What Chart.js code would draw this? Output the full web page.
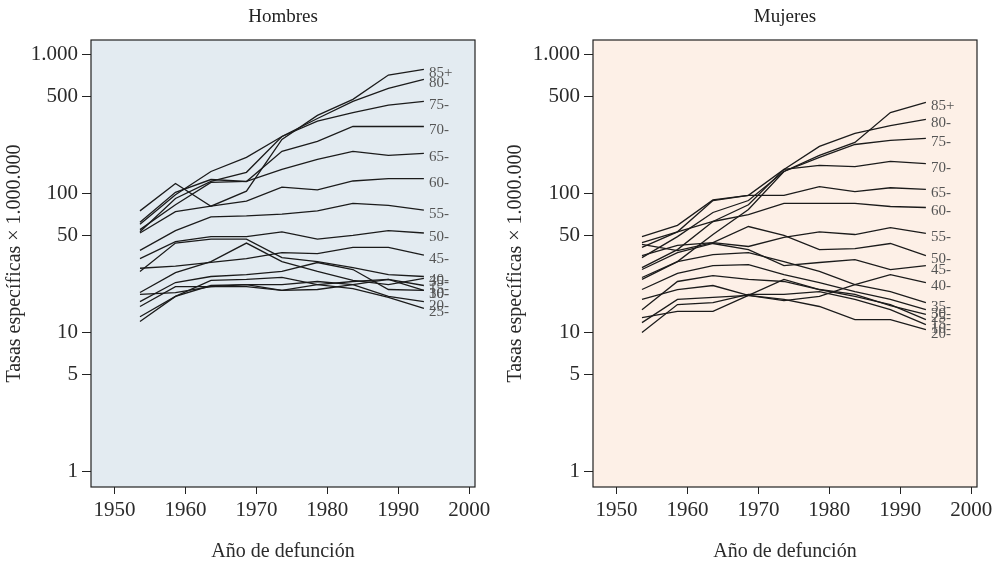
<!DOCTYPE html>
<html lang="es">
<head>
  <meta charset="UTF-8">
  <title>Tasas específicas por edad</title>
  <style>
    body { margin: 0; background: #fff; }
    canvas { position: absolute; top: 0; }
  </style>
</head>
<body>
  <canvas id="hombres" width="501" height="568" style="left:0"></canvas>
  <canvas id="mujeres" width="501" height="568" style="left:501px"></canvas>
  <script src="https://cdn.jsdelivr.net/npm/chart.js"></script>
  <script>
    // Periodos (punto medio) y grupos de edad
    var years = [1953.6, 1958.6, 1963.6, 1968.6, 1973.6, 1978.6, 1983.6, 1988.6, 1993.6];
    var grupos = ['85+', '80-', '75-', '70-', '65-', '60-', '55-', '50-', '45-', '40-', '35-', '30-', '25-', '20-', '15-', '10-'];
    var xTicks = [1950, 1960, 1970, 1980, 1990, 2000];
    var yTicks = [1, 5, 10, 50, 100, 500, 1000];

    // Tasas por 1.000.000, mismo orden que grupos
    var hombres = [
      [75, 118, 81, 104, 245, 364, 475, 710, 780],
      [53, 92, 122, 142, 257, 346, 459, 569, 661],
      [60, 98, 144, 182, 257, 331, 382, 432, 459],
      [62, 102, 126, 122, 201, 237, 303, 303, 303],
      [55, 83, 120, 122, 149, 176, 201, 188, 194],
      [52, 74, 81, 88, 111, 106, 123, 128, 128],
      [39, 54, 68, 69, 71, 75, 85, 82, 76],
      [34, 45, 49, 49, 53, 47, 50, 54, 52],
      [29, 30, 32, 34, 37.6, 37, 41, 41, 36],
      [27.5, 44, 47, 47, 34.6, 32.4, 29.3, 26.1, 25.3],
      [19.4, 27, 32.4, 44, 32.4, 27.5, 23.7, 22.1, 24.5],
      [16.7, 22.9, 25.3, 26.1, 27.5, 31.9, 28.4, 20.4, 20.1],
      [13, 18.2, 23.7, 24.1, 24.9, 22.1, 20.7, 17.9, 14.9],
      [12, 18.2, 21.8, 22.1, 22.1, 23.3, 22.1, 18.2, 16.7],
      [15.4, 21.4, 21.4, 22.1, 20.1, 22.1, 23.3, 24.1, 21.8],
      [18.8, 19.4, 21.4, 21.4, 20.1, 20.4, 22.1, 24.1, 20.1]
    ];
    var mujeres = [
      [24.9, 32.4, 50.7, 76.7, 144, 188, 233, 382, 452],
      [29.3, 39.5, 62.9, 83, 149, 218, 270, 308, 341],
      [34.6, 49, 73, 89, 144, 182, 225, 241, 249],
      [41, 53, 89, 97, 149, 159, 156, 170, 164],
      [49, 59, 90, 97, 97, 112, 103, 110, 107],
      [44.4, 53, 62.9, 70.6, 85, 85, 85, 80.6, 79.3],
      [43, 38.9, 44.4, 41.6, 48.3, 53, 50.7, 56.9, 51.6],
      [35.8, 42.3, 44.4, 57.9, 50, 39.5, 40.2, 43.7, 35.8],
      [28.4, 37.6, 43.7, 39.5, 30.3, 31.9, 33.5, 28.4, 30.3],
      [17.3, 20.4, 21.8, 18.5, 17.0, 18.2, 22.1, 26.1, 22.9],
      [24.1, 32.4, 36.4, 37.6, 32.4, 27.5, 22.1, 19.7, 16.4],
      [20.4, 26.6, 30.3, 30.8, 26.1, 22.9, 19.7, 17.3, 14.6],
      [14.6, 23.3, 25.7, 24.1, 23.3, 20.4, 18.8, 15.6, 13.5],
      [11.8, 17.3, 17.9, 18.5, 17.3, 15.4, 12.4, 12.4, 10.5],
      [12.8, 14.2, 14.2, 18.5, 24.1, 20.4, 18.2, 15.9, 12.4],
      [10, 15.9, 16.4, 18.8, 18.8, 19.7, 17.3, 14.6, 11.4]
    ];

    var serif = "'Liberation Serif', 'Times New Roman', serif";

    function miles(v) {
      return String(v).replace(/\B(?=(\d{3})+(?!\d))/g, '.');
    }

    // fondo, marco, titulo y etiquetas de las curvas
    var panelPlugin = {
      id: 'panel',
      beforeDatasetsDraw: function (chart, args, opts) {
        var a = chart.chartArea, ctx = chart.ctx;
        ctx.save();
        ctx.fillStyle = opts.bg;
        ctx.fillRect(a.left, a.top, a.right - a.left, a.bottom - a.top);
        ctx.restore();
      },
      afterDatasetsDraw: function (chart, args, opts) {
        var ctx = chart.ctx, a = chart.chartArea;
        ctx.save();
        ctx.font = '15px ' + serif;
        ctx.fillStyle = '#555';
        ctx.textAlign = 'left';
        ctx.textBaseline = 'middle';
        chart.data.datasets.forEach(function (ds, i) {
          var pts = chart.getDatasetMeta(i).data;
          var p = pts[pts.length - 1];
          ctx.fillText(ds.label, p.x + 5, p.y + 4);
        });
        ctx.strokeStyle = '#222';
        ctx.lineWidth = 1.2;
        ctx.strokeRect(a.left, a.top, a.right - a.left, a.bottom - a.top);
        ctx.font = '19px ' + serif;
        ctx.fillStyle = '#222';
        ctx.textAlign = 'center';
        ctx.fillText(opts.title, (a.left + a.right) / 2, 17);
        ctx.restore();
      }
    };

    function makeChart(id, title, series, bg, axisW, padRight) {
      var datasets = grupos.map(function (g, i) {
        return {
          label: g,
          data: years.map(function (yr, j) { return { x: yr, y: series[i][j] }; }),
          borderColor: '#1b1b1b',
          borderWidth: 1.3,
          pointRadius: 0,
          tension: 0,
          fill: false
        };
      });
      return new Chart(document.getElementById(id), {
        type: 'line',
        data: { datasets: datasets },
        plugins: [panelPlugin],
        options: {
          responsive: false,
          animation: false,
          devicePixelRatio: 1,
          layout: { padding: { top: 40, right: padRight, left: 0, bottom: 0 } },
          plugins: {
            legend: { display: false },
            tooltip: { enabled: false },
            panel: { title: title, bg: bg }
          },
          scales: {
            x: {
              type: 'linear',
              min: 1946.7,
              max: 2000.8,
              bounds: 'data',
              afterBuildTicks: function (s) { s.ticks = xTicks.map(function (v) { return { value: v }; }); },
              afterFit: function (s) { s.height = 81; },
              grid: { drawOnChartArea: false, drawTicks: true, tickLength: 7, color: '#222' },
              border: { display: false },
              ticks: {
                font: { family: serif, size: 21 },
                color: '#2a2a2a',
                padding: 4,
                maxRotation: 0,
                callback: function (v) { return String(v); }
              },
              title: {
                display: true,
                text: 'Año de defunción',
                font: { family: serif, size: 20 },
                color: '#2a2a2a',
                padding: { top: 0, bottom: 4 }
              }
            },
            y: {
              type: 'logarithmic',
              min: 0.776,
              max: 1269,
              bounds: 'data',
              afterBuildTicks: function (s) { s.ticks = yTicks.map(function (v) { return { value: v }; }); },
              afterFit: function (s) { s.width = axisW; },
              grid: { drawOnChartArea: false, drawTicks: true, tickLength: 9, color: '#222' },
              border: { display: false },
              ticks: {
                font: { family: serif, size: 21 },
                color: '#2a2a2a',
                padding: 4,
                callback: function (v) { return miles(v); }
              },
              title: {
                display: true,
                text: 'Tasas específicas × 1.000.000',
                font: { family: serif, size: 20 },
                color: '#2a2a2a',
                padding: { top: 3, bottom: 0 }
              }
            }
          }
        }
      });
    }

    makeChart('hombres', 'Hombres', hombres, '#e3ebf1', 91, 26);
    makeChart('mujeres', 'Mujeres', mujeres, '#fdf0e7', 92, 25);
  </script>
</body>
</html>
